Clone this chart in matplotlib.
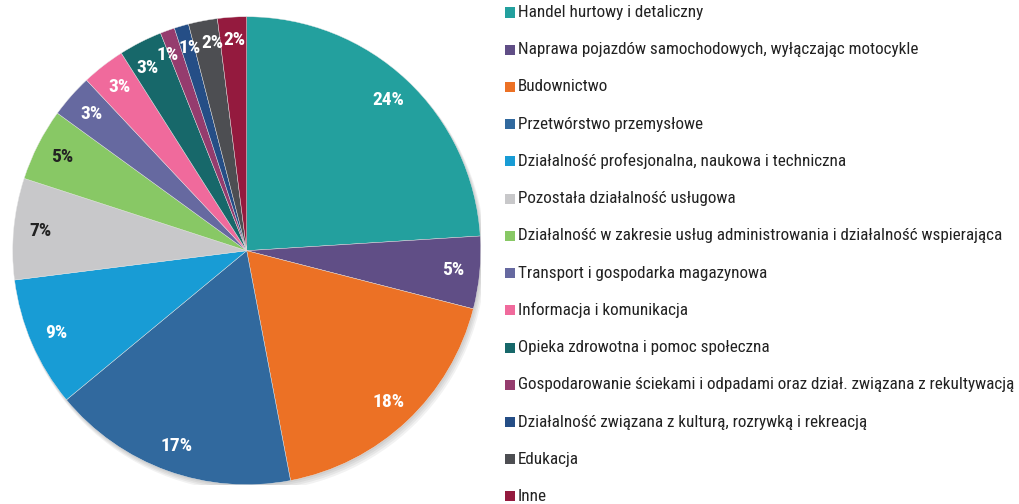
import matplotlib
matplotlib.use("Agg")
import numpy as np
import matplotlib.pyplot as plt
from matplotlib.patches import Circle, Rectangle

categories = [
    "Handel hurtowy i detaliczny",
    "Naprawa pojazdów samochodowych, wyłączając motocykle",
    "Budownictwo",
    "Przetwórstwo przemysłowe",
    "Działalność profesjonalna, naukowa i techniczna",
    "Pozostała działalność usługowa",
    "Działalność w zakresie usług administrowania i działalność wspierająca",
    "Transport i gospodarka magazynowa",
    "Informacja i komunikacja",
    "Opieka zdrowotna i pomoc społeczna",
    "Gospodarowanie ściekami i odpadami oraz dział. związana z rekultywacją",
    "Działalność związana z kulturą, rozrywką i rekreacją",
    "Edukacja",
    "Inne",
]
shares = [24, 5, 18, 17, 9, 7, 5, 3, 3, 3, 1, 1, 2, 2]
colors = [
    "#23A09E", "#604E86", "#EC7125", "#31699E", "#189CD5", "#C8C8CA",
    "#88C865", "#6669A0", "#F06A9C", "#17686A", "#953C6E", "#254E86",
    "#4D4E52", "#941A3E",
]
label_colors = ["white"] * 5 + ["#222222", "#222222"] + ["white"] * 7

family = ["Roboto Condensed", "Archivo Narrow", "DejaVu Sans"]

W, H = 1020, 504
fig = plt.figure(figsize=(W / 100, H / 100), dpi=100)

cx, cy, R = 246.7, 250.7, 234.0
ax = fig.add_axes([(cx - R) / W, (H - cy - R) / H, 2 * R / W, 2 * R / H])

# soft drop shadow under the pie
for i in range(4):
    off = 0.006 * (i + 1)
    ax.add_patch(Circle((off * 0.6, -off), 1.0 + 0.002 * i, color="black",
                        alpha=0.05, zorder=0, lw=0))

wedges, texts, autotexts = ax.pie(
    shares, colors=colors, startangle=90, counterclock=False, radius=1.0,
    autopct=lambda p: f"{p:.0f}%", pctdistance=0.885,
    wedgeprops=dict(edgecolor="#e8e8e8", linewidth=0.3),
    textprops=dict(fontsize=14, fontweight="bold", family=family),
)
for w in wedges:
    w.set_zorder(2)
for t, c in zip(autotexts, label_colors):
    t.set_color(c)
    t.set_zorder(3)


def place(idx, deg_from_top, r):
    """Put a percentage label at an angle measured clockwise from 12 o'clock."""
    a = np.deg2rad(deg_from_top)
    autotexts[idx].set_position((r * np.sin(a), r * np.cos(a)))


# the labels of the thin wedges near the top are spread out a little
place(9, -28.6, 0.89)
place(10, -22.0, 0.9)
place(11, -15.6, 0.9)
place(12, -9.5, 0.9)
place(13, -3.4, 0.9)

ax.set_xlim(-1, 1)
ax.set_ylim(-1, 1)
ax.set_aspect("equal")
ax.axis("off")

# legend column
x0, y0, dy = 505, 12.5, 37.23
sq = 10
for i, (name, col) in enumerate(zip(categories, colors)):
    y = y0 + i * dy
    fig.patches.append(Rectangle((x0 / W, (H - y - sq / 2) / H), sq / W, sq / H,
                                 transform=fig.transFigure, facecolor=col,
                                 edgecolor="none"))
    fig.text((x0 + sq + 3) / W, (H - y) / H, name, fontsize=12.3, family=family,
             color="#222222", va="center", ha="left")

fig.savefig("out.png", dpi=100)
